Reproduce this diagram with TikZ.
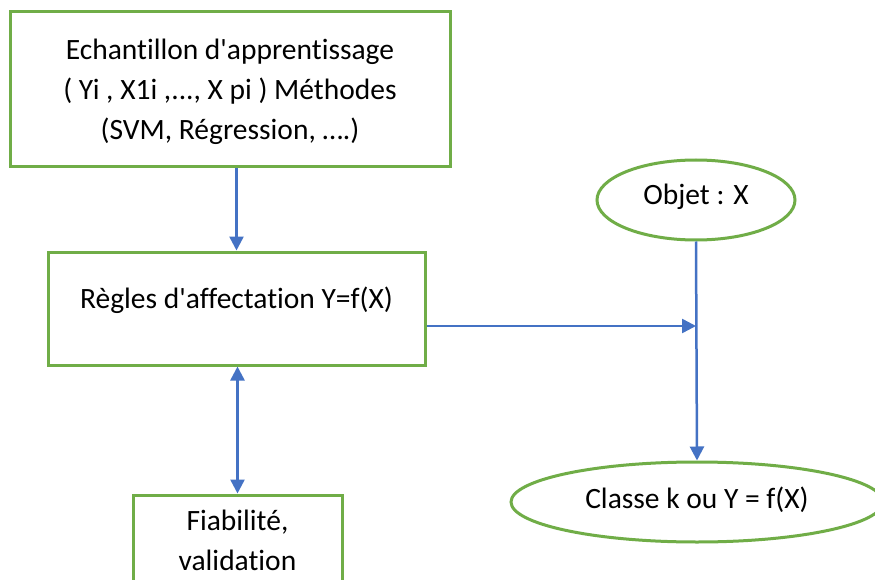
\documentclass[tikz,border=0pt]{standalone}
\usepackage{fontspec}
\setmainfont{Carlito}[Ligatures={NoCommon}]
\usetikzlibrary{arrows.meta,shapes.geometric}
\definecolor{grn}{HTML}{70AD47}
\definecolor{blu}{HTML}{4472C4}
\newcommand{\apos}{\textquotesingle}
\begin{document}
\begin{tikzpicture}[x=1pt,y=-1pt,
  box/.style={draw=grn,line width=3pt,fill=white,inner sep=0pt},
  oval/.style={draw=grn,line width=3pt,fill=white,ellipse,inner sep=0pt},
  txt/.style={font=\fontsize{29.5}{40}\selectfont,align=center,inner sep=0pt},
  conn/.style={draw=blu,line width=2.5pt,-{Triangle[length=14pt,width=14pt]}},
  dconn/.style={draw=blu,line width=2.5pt,{Triangle[length=14pt,width=14pt]}-{Triangle[length=14pt,width=14pt]}}]
\useasboundingbox (0,0) rectangle (875,580);
\clip (0,0) rectangle (875,580);
\fill[white] (0,0) rectangle (875,580);
% boxes
\node[box,minimum width=440pt,minimum height=155pt] (b1) at (230,89.5) {};
\node[txt] (t1) at (230,92) {Echantillon d\apos apprentissage\\ ( Yi , X1i ,..., X pi ) Méthodes\\ (SVM, Régression, ….)};
\node[box,minimum width=377pt,minimum height=113pt] (b2) at (236.5,308.5) {};
\node[txt] (t2) at (236.5,300) {Règles d\apos affectation Y=f(X)};
\node[box,minimum width=209pt,minimum height=120pt] (b3) at (237.5,555) {};
\node[txt,anchor=north] (t3) at (237.5,510) {Fiabilité,\\ validation};
% ellipses
\node[oval,minimum width=198pt,minimum height=80pt] (o1) at (696,200) {};
\node[txt] (to1) at (696,197) {Objet : X};
\node[oval,minimum width=372pt,minimum height=80pt] (o2) at (697,502) {};
\node[txt] (to2) at (697,500) {Classe k ou Y = f(X)};
% connectors
\coordinate (j) at (o1.south |- 0,326);
\draw[conn] (b1.south -| b2.north) -- (b2.north);
\draw[conn] (o1.south) -- (o2.north);
\draw[conn] (j -| b2.east) -- (j);
\draw[dconn] (b2.south -| b3.north) -- (b3.north);
\end{tikzpicture}
\end{document}
